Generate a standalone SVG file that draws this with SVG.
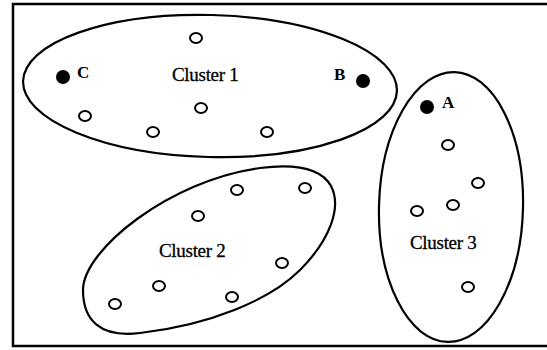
<svg xmlns="http://www.w3.org/2000/svg" width="547" height="350" viewBox="0 0 547 350">
<style>
.frame{fill:#fff;stroke:#000;stroke-width:2.5}
.cl{fill:none;stroke:#000;stroke-width:2.2}
.o{fill:#fff;stroke:#000;stroke-width:2}
.f{fill:#000}
.lbl{font-family:"Liberation Serif","Times New Roman",serif;font-size:19px;fill:#000;stroke:#000;stroke-width:0.3;letter-spacing:-0.3px}
.pt{font-family:"Liberation Serif","Times New Roman",serif;font-size:17px;font-weight:bold;fill:#000}
</style>
<defs>
<ellipse id="oc" cx="0" cy="0" rx="6" ry="5" class="o"/>
</defs>
<rect class="frame" x="13" y="4" width="545" height="342"/>
<g id="cluster1">
<ellipse class="cl" cx="210" cy="86" rx="187" ry="71" transform="rotate(1.5 210 86)"/>
<text class="lbl" x="172" y="81">Cluster 1</text>
<use href="#oc" x="196" y="38"/>
<use href="#oc" x="85" y="116"/>
<use href="#oc" x="201" y="108"/>
<use href="#oc" x="153" y="132"/>
<use href="#oc" x="267" y="132"/>
</g>
<g id="pointC">
<circle class="f" cx="63" cy="77" r="7"/>
<text class="pt" x="77" y="78">C</text>
</g>
<g id="pointB">
<circle class="f" cx="363" cy="81" r="7"/>
<text class="pt" x="334" y="80">B</text>
</g>
<g id="cluster2">
<path class="cl" d="M83,290 C83,250 170,180 260,168 C300,163 322,170 331,186 C342,207 330,240 300,270 C270,300 210,325 140,333 C100,338 83,320 83,290 Z"/>
<text class="lbl" x="159" y="257">Cluster 2</text>
<use href="#oc" x="237" y="190"/>
<use href="#oc" x="305" y="188"/>
<use href="#oc" x="198" y="216"/>
<use href="#oc" x="282" y="263"/>
<use href="#oc" x="159" y="286"/>
<use href="#oc" x="232" y="297"/>
<use href="#oc" x="115" y="304"/>
</g>
<g id="cluster3">
<ellipse class="cl" cx="451" cy="207" rx="72" ry="135" transform="rotate(1.5 451 207)"/>
<text class="lbl" x="410" y="249">Cluster 3</text>
<use href="#oc" x="448" y="145"/>
<use href="#oc" x="478" y="183"/>
<use href="#oc" x="453" y="205"/>
<use href="#oc" x="417" y="211"/>
<use href="#oc" x="468" y="287"/>
</g>
<g id="pointA">
<circle class="f" cx="427" cy="107" r="7"/>
<text class="pt" x="442" y="108">A</text>
</g>
</svg>
